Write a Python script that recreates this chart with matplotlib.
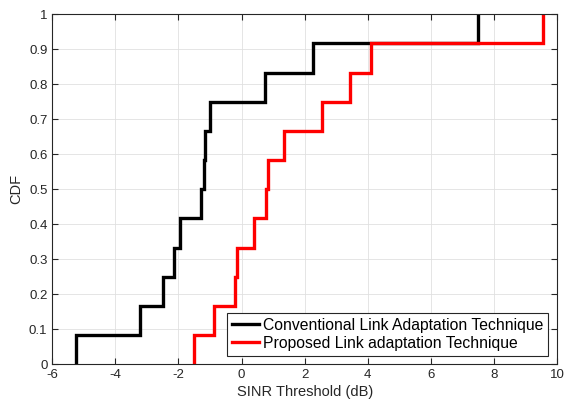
import numpy as np
import matplotlib
matplotlib.use("Agg")
import matplotlib.pyplot as plt

plt.rcParams['font.family'] = ['Liberation Sans', 'DejaVu Sans']
plt.rcParams['axes.unicode_minus'] = False

conventional = [-5.25, -3.21, -2.48, -2.13, -1.96, -1.30, -1.19, -1.16, -0.99, 0.75, 2.28, 7.50]
proposed = [-1.50, -0.88, -0.22, -0.15, 0.39, 0.78, 0.85, 1.33, 2.56, 3.44, 4.10, 9.57]
labels = ['Conventional Link Adaptation Technique', 'Proposed Link adaptation Technique']
colors = ['black', 'red']
xticks = [-6, -4, -2, 0, 2, 4, 6, 8, 10]
yticks = [0, 0.1, 0.2, 0.3, 0.4, 0.5, 0.6, 0.7, 0.8, 0.9, 1]
ytick_labels = ['0', '0.1', '0.2', '0.3', '0.4', '0.5', '0.6', '0.7', '0.8', '0.9', '1']


def ecdf_xy(vals):
    v = np.sort(np.asarray(vals, dtype=float))
    n = len(v)
    xs = np.repeat(v, 2)
    ys = np.empty(2 * n)
    ys[0::2] = np.arange(n) / n
    ys[1::2] = np.arange(1, n + 1) / n
    return xs, ys


fig = plt.figure(figsize=(5.65, 4.07), dpi=100)
ax = fig.add_axes([0.0926, 0.1049, 0.9858 - 0.0926, 0.9649 - 0.1049])

for data, lab, col in zip([conventional, proposed], labels, colors):
    xs, ys = ecdf_xy(data)
    ax.plot(xs, ys, color=col, linewidth=2.4, label=lab, solid_joinstyle='miter')

ax.set_xlim(-6, 10)
ax.set_ylim(0, 1)
ax.set_xticks(xticks)
ax.set_yticks(yticks)
ax.set_yticklabels(ytick_labels)
ax.grid(True, color='#e0e0e0', linewidth=0.6)
ax.set_axisbelow(True)
ax.tick_params(direction='in', top=True, right=True, length=4, width=0.8,
               labelsize=9.5, colors='#262626', labelcolor='#262626')
for s in ax.spines.values():
    s.set_color('#262626')
    s.set_linewidth(0.8)

ax.set_xlabel('SINR Threshold (dB)', fontsize=10.5, color='#262626', labelpad=3)
ax.set_ylabel('CDF', fontsize=10.5, color='#262626', labelpad=4)

leg = ax.legend(loc='lower right', fontsize=11.3, frameon=True, fancybox=False,
                edgecolor='#262626', framealpha=1, handlelength=1.75,
                handletextpad=0.25, borderpad=0.3, labelspacing=0.2,
                borderaxespad=0.55)
leg.get_frame().set_linewidth(0.8)

fig.savefig('out.png', dpi=100)
